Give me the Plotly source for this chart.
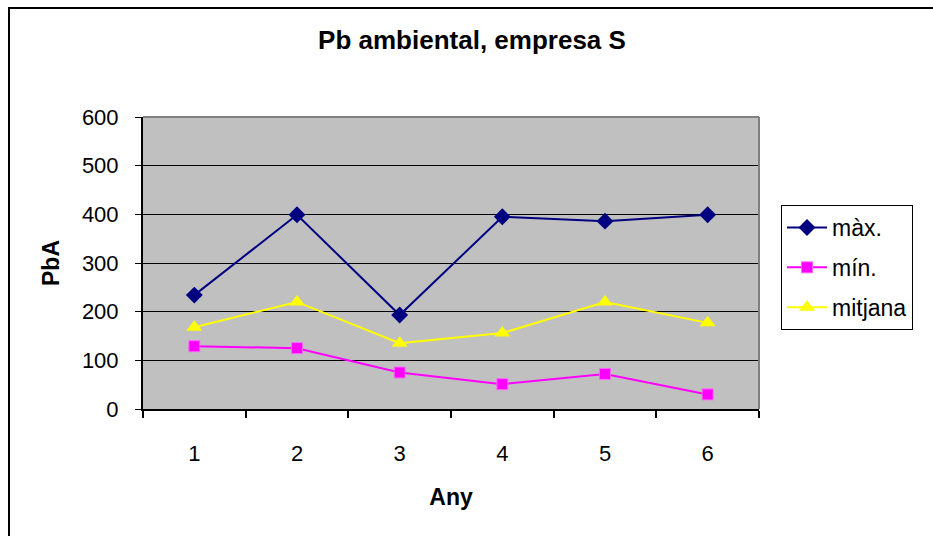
import plotly.graph_objects as go

# Lead (Pb) ambient levels per year
years = [1, 2, 3, 4, 5, 6]
maxim = [234, 399, 193, 395, 386, 399]
minim = [129, 125, 75, 51, 72, 30]
mitjana = [168, 220, 135, 156, 220, 177]
y_ticks = [0, 100, 200, 300, 400, 500, 600]

W, H = 933, 536
L, R, T, B = 143, 759, 117, 409

font = "Liberation Sans, Arial, sans-serif"

fig = go.Figure()
fig.add_trace(go.Scatter(x=years, y=maxim, name="màx.", mode="lines+markers",
                         legendgroup="a",
                         line=dict(color="#000080", width=2),
                         marker=dict(symbol="diamond", size=13, color="#000080")))
fig.add_trace(go.Scatter(x=years, y=minim, name="mín.", mode="lines+markers",
                         legendgroup="b",
                         line=dict(color="#FF00FF", width=2),
                         marker=dict(symbol="square", size=11, color="#FF00FF",
                                     line=dict(color="#FF66FF", width=1))))
fig.add_trace(go.Scatter(x=years, y=mitjana, name="mitjana", mode="lines+markers",
                         legendgroup="c",
                         line=dict(color="#FFFF00", width=2),
                         marker=dict(symbol="triangle-up", size=14, color="#FFFF00")))

pw, ph = R - L, B - T
def px(x):
    return (x - L) / pw
def py(y):
    return (B - y) / ph

fig.update_layout(
    width=W, height=H,
    margin=dict(l=L, r=W - R, t=T, b=H - B),
    paper_bgcolor="white",
    plot_bgcolor="#C0C0C0",
    font=dict(family=font, size=22, color="black"),
    showlegend=True,
    legend=dict(x=px(781), y=py(205), xanchor="left", yanchor="top",
                bordercolor="black", borderwidth=1, bgcolor="white",
                font=dict(size=23), tracegroupgap=7, itemwidth=40),
    xaxis=dict(range=[0.5, 6.5], tickvals=years, ticktext=[str(v) for v in years],
               ticks="", showgrid=False, zeroline=False, showline=True,
               linecolor="black", linewidth=2, ticklabelstandoff=24,
               tickfont=dict(size=22),
               minor=dict(tickvals=[0.5, 1.5, 2.5, 3.5, 4.5, 5.5, 6.5], ticks="outside",
                          ticklen=7, tickwidth=2, tickcolor="black", showgrid=False),
               title=dict(text="<b>Any</b>", font=dict(size=23), standoff=23)),
    yaxis=dict(range=[0, 600], tickvals=y_ticks, ticks="outside", ticklen=6,
               tickwidth=1, tickcolor="black", showgrid=True, gridcolor="black",
               gridwidth=1, zeroline=False, showline=True, linecolor="black",
               linewidth=2, ticklabelstandoff=12, tickfont=dict(size=22),
               title=dict(text="<b>PbA</b>", font=dict(size=23), standoff=16)),
    title=dict(text="<b>Pb ambiental, empresa S</b>", x=472 / W, xanchor="center",
               y=1 - 40 / H, yanchor="middle", font=dict(size=26)),
)

# grey frame on top and right of the plot area
fig.add_shape(type="line", xref="paper", yref="paper", x0=0, x1=1, y0=1, y1=1,
              line=dict(color="#808080", width=2))
fig.add_shape(type="line", xref="paper", yref="paper", x0=1, x1=1, y0=0, y1=1,
              line=dict(color="#808080", width=2))
# chart outer border
fig.add_shape(type="rect", xref="paper", yref="paper",
              x0=px(9), x1=px(W + 20), y0=py(H + 20), y1=py(8),
              line=dict(color="black", width=2), fillcolor="rgba(0,0,0,0)", layer="below")

fig.write_html("out.html")
